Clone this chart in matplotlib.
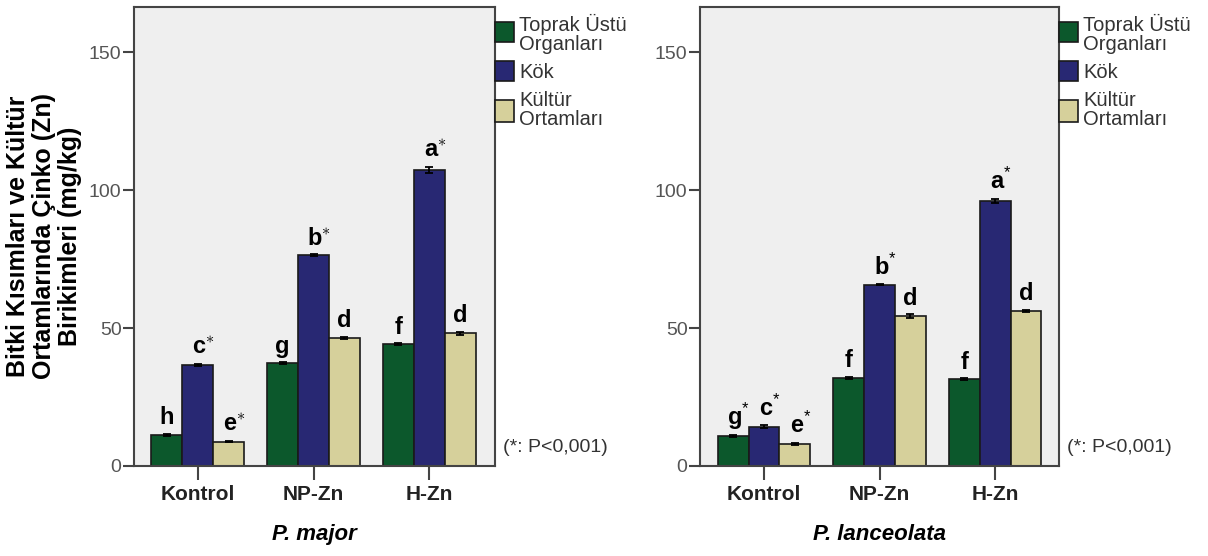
import numpy as np
import matplotlib
matplotlib.use("Agg")
from matplotlib import pyplot as plt
from matplotlib.patches import Rectangle

plt.rcParams['font.family'] = ['Liberation Sans', 'DejaVu Sans']
plt.rcParams['mathtext.fontset'] = 'custom'
plt.rcParams['mathtext.rm'] = 'Liberation Sans'
plt.rcParams['mathtext.bf'] = 'Liberation Sans:bold'

groups = ['Kontrol', 'NP-Zn', 'H-Zn']
series = ['Toprak Üstü\nOrganları', 'Kök', 'Kültür\nOrtamları']
colors = ['#0c582c', '#282873', '#d6d09b']

# P. major
major_vals = np.array([[11.3, 37.3, 44.2],
                       [36.7, 76.4, 107.3],
                       [8.8, 46.4, 48.1]])
major_err = np.array([[0.3, 0.3, 0.3],
                      [0.4, 0.3, 1.2],
                      [0.2, 0.3, 0.6]])
major_letters = [['h', 'g', 'f'], ['c*', 'b*', 'a*'], ['e*', 'd', 'd']]

# P. lanceolata
lanc_vals = np.array([[10.9, 31.9, 31.5],
                      [14.3, 65.7, 96.1],
                      [8.1, 54.4, 56.2]])
lanc_err = np.array([[0.3, 0.4, 0.3],
                     [0.4, 0.2, 0.8],
                     [0.4, 0.6, 0.3]])
lanc_letters = [['g*', 'f', 'f'], ['c*', 'b*', 'a*'], ['e*', 'd', 'd']]

W, H = 1208, 556
fig = plt.figure(figsize=(W / 100, H / 100), dpi=100)


def fx(px):
    return px / W


def fy(py):
    return 1 - py / H


def panel(left_px, right_px, xlim, vals, errs, letters, title, high_star):
    ax = fig.add_axes([fx(left_px), fy(466), fx(right_px - left_px), (466 - 7) / H])
    ax.set_facecolor('#efefef')
    w = 0.267
    x = np.arange(len(groups))
    for i in range(len(series)):
        xs = x + (i - 1) * w
        ax.bar(xs, vals[i], w, color=colors[i], edgecolor='#1a1a1a', linewidth=1.2,
               yerr=errs[i], error_kw=dict(ecolor='black', elinewidth=1.3, capsize=3, capthick=1.3),
               zorder=2)
        for j in range(len(groups)):
            txt = letters[i][j]
            top = vals[i][j] + errs[i][j]
            if txt.endswith('*'):
                sup = r'$^{*}$' if high_star else r'$^{\ast}$'
                label = txt[0] + sup
                dx = 4
            else:
                label = txt
                dx = 0
            ax.annotate(label, (xs[j], top), xytext=(dx, 7), textcoords='offset points',
                        ha='center', va='baseline', fontsize=17, fontweight='bold', color='black')
    ax.set_xlim(*xlim)
    ax.set_ylim(0, 166.4)
    ax.set_yticks([0, 50, 100, 150])
    ax.set_xticks(x)
    ax.set_xticklabels(groups, fontsize=15, fontweight='bold', color='#222222')
    ax.tick_params(axis='y', length=8, width=1.5, color='#444444', labelsize=14,
                   labelcolor='#555555', pad=1)
    ax.tick_params(axis='x', length=10, width=1.5, color='#444444', pad=4)
    for s in ax.spines.values():
        s.set_color('#444444')
        s.set_linewidth(1.5)
    ax.set_xlabel(title, fontsize=16, fontweight='bold', style='italic', labelpad=14)

    # legend to the right of the frame
    for k, (lab, c) in enumerate(zip(series, colors)):
        y0, y1 = [(22, 42), (61, 81), (100, 122)][k]
        fig.add_artist(Rectangle((fx(right_px), fy(y1)), fx(19), (y1 - y0) / H,
                                 facecolor=c, edgecolor='#1a1a1a', linewidth=1.2,
                                 transform=fig.transFigure))
        ty = [14, 63, 91][k]
        fig.text(fx(right_px + 24), fy(ty), lab, ha='left', va='top', fontsize=14.5,
                 color='#333333', linespacing=1.0)
    fig.text(fx(right_px + 8), fy(448), '(*: P<0,001)', ha='left', va='center',
             fontsize=14, color='#333333')
    return ax


panel(134, 495, (-0.55, 2.567), major_vals, major_err, major_letters, 'P. major', False)
panel(700, 1059, (-0.554, 2.552), lanc_vals, lanc_err, lanc_letters, 'P. lanceolata', True)

fig.text(fx(44), fy(236), 'Bitki Kısımları ve Kültür\nOrtamlarında Çinko (Zn)\nBirikimleri (mg/kg)',
         rotation=90, ha='center', va='center', multialignment='center',
         fontsize=18, fontweight='bold', color='black', linespacing=1.12)

fig.savefig('out.png', dpi=100, facecolor='white')
